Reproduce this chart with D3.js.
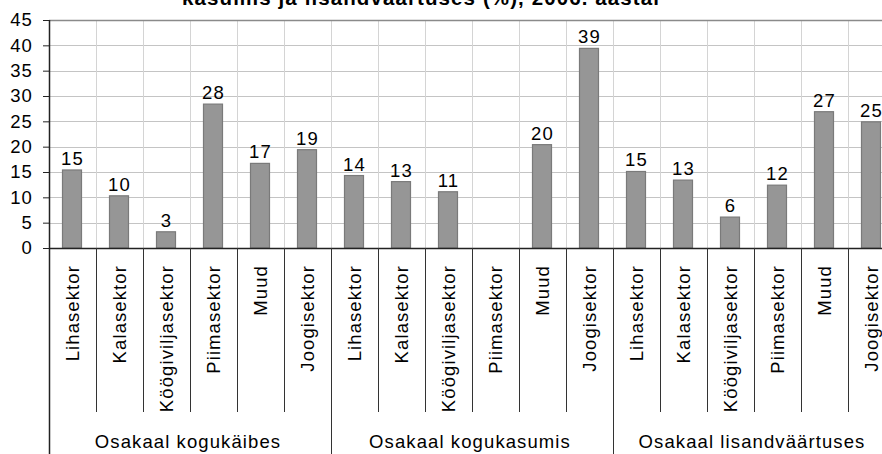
<!DOCTYPE html>
<html>
<head>
<meta charset="utf-8">
<script src="https://cdn.jsdelivr.net/npm/d3@7"></script>
<style>
  html, body { margin: 0; padding: 0; background: #fff; overflow: hidden; }
  svg { display: block; font-family: "Liberation Sans", Arial, sans-serif; }
</style>
</head>
<body>
<script>
// ---- data ----
const titleText = "kasumis ja  lisandväärtuses (%), 2006. aastal";
const groups = ["Osakaal kogukäibes", "Osakaal kogukasumis", "Osakaal lisandväärtuses"];
const sectors = ["Lihasektor", "Kalasektor", "Köögiviljasektor", "Piimasektor", "Muud", "Joogisektor"];
const valuesKogukaive = [15.4, 10.3, 3.2, 28.4, 16.7, 19.4];
const valuesKogukasum = [14.3, 13.1, 11.1, null, 20.4, 39.4];
const valuesLisandvaartus = [15.1, 13.4, 6.1, 12.4, 26.9, 24.9];
const yTicks = [0, 5, 10, 15, 20, 25, 30, 35, 40, 45];

(function () {
const seriesByGroup = [valuesKogukaive, valuesKogukasum, valuesLisandvaartus];
const rows = [];
groups.forEach((g, gi) => sectors.forEach((s, si) => {
  rows.push({ key: gi + "|" + si, group: g, gi, sector: s, value: seriesByGroup[gi][si] });
}));

// ---- layout ----
const W = 882, H = 454;
const mLeft = 49, mRight = 895, mTop = 20, mBottom = 248;

const svg = d3.select("body").append("svg").attr("width", W).attr("height", H);

const x = d3.scaleBand().domain(rows.map(r => r.key)).range([mLeft, mRight]).padding(0);
const xg = d3.scaleBand().domain(groups).range([mLeft, mRight]).padding(0);
const y = d3.scaleLinear().domain([0, 45]).range([mBottom, mTop]);

// horizontal gridlines
svg.append("g").selectAll("line").data(yTicks.filter(t => t > 0 && t < 45)).join("line")
  .attr("x1", mLeft).attr("x2", mRight)
  .attr("y1", d => Math.round(y(d)) + 0.5).attr("y2", d => Math.round(y(d)) + 0.5)
  .attr("stroke", "#c4c4c4").attr("stroke-width", 1);

// vertical gridlines at category boundaries
svg.append("g").selectAll("line").data(rows.slice(1)).join("line")
  .attr("x1", d => Math.round(x(d.key)) + 0.5).attr("x2", d => Math.round(x(d.key)) + 0.5)
  .attr("y1", mTop).attr("y2", mBottom)
  .attr("stroke", "#d4d4d4").attr("stroke-width", 1);

// top border
svg.append("line").attr("x1", mLeft).attr("x2", mRight)
  .attr("y1", Math.round(y(45)) + 0.5).attr("y2", Math.round(y(45)) + 0.5)
  .attr("stroke", "#8a8a8a").attr("stroke-width", 1.5);

// bars
const barW = 19;
svg.append("g").selectAll("rect").data(rows.filter(r => r.value != null)).join("rect")
  .attr("x", d => x(d.key) + x.bandwidth() / 2 - barW / 2 - 0.5)
  .attr("width", barW)
  .attr("y", d => y(d.value))
  .attr("height", d => mBottom - y(d.value))
  .attr("fill", "#969696").attr("stroke", "#7a7a7a").attr("stroke-width", 1.2);

// value labels
svg.append("g").selectAll("text").data(rows.filter(r => r.value != null)).join("text")
  .attr("x", d => x(d.key) + x.bandwidth() / 2)
  .attr("y", d => y(d.value) - 5)
  .attr("text-anchor", "middle")
  .attr("font-size", 18.5).attr("letter-spacing", 1.1).attr("fill", "#000")
  .text(d => d3.format(".0f")(d.value));

// y axis
const yAxis = d3.axisLeft(y).tickValues(yTicks).tickSize(6).tickPadding(10);
const gy = svg.append("g").attr("transform", `translate(${mLeft},0)`).call(yAxis);
gy.select(".domain").remove();
gy.selectAll(".tick line").attr("stroke", "#222");
gy.selectAll(".tick text").attr("font-size", 18.5).attr("letter-spacing", 1.1)
  .attr("fill", "#000").attr("font-family", "Liberation Sans, Arial, sans-serif");
svg.append("line").attr("x1", mLeft + 0.5).attr("x2", mLeft + 0.5).attr("y1", mTop).attr("y2", H)
  .attr("stroke", "#222").attr("stroke-width", 1.5);

// x axis (inner categories)
const xAxis = d3.axisBottom(x).tickSize(0).tickFormat(k => rows.find(r => r.key === k).sector);
const gx = svg.append("g").attr("transform", `translate(0,${mBottom})`).call(xAxis);
gx.select(".domain").remove();
gx.selectAll(".tick text")
  .attr("font-size", 18.5).attr("letter-spacing", 1.1).attr("fill", "#000")
  .attr("font-family", "Liberation Sans, Arial, sans-serif")
  .attr("text-anchor", "end")
  .attr("transform", "rotate(-90)")
  .attr("x", -17).attr("y", 0).attr("dy", "0.35em");

svg.append("line").attr("x1", mLeft).attr("x2", mRight)
  .attr("y1", mBottom + 0.5).attr("y2", mBottom + 0.5)
  .attr("stroke", "#222").attr("stroke-width", 1.5);

// inner separators
svg.append("g").selectAll("line").data(rows.slice(1).filter(r => !r.key.endsWith("|0"))).join("line")
  .attr("x1", d => Math.round(x(d.key)) + 0.5).attr("x2", d => Math.round(x(d.key)) + 0.5)
  .attr("y1", mBottom).attr("y2", 412)
  .attr("stroke", "#333").attr("stroke-width", 1);

// group separators
svg.append("g").selectAll("line").data(groups.slice(1)).join("line")
  .attr("x1", d => Math.round(xg(d)) + 0.5).attr("x2", d => Math.round(xg(d)) + 0.5)
  .attr("y1", mBottom).attr("y2", H)
  .attr("stroke", "#333").attr("stroke-width", 1);

// group labels
svg.append("g").selectAll("text").data(groups).join("text")
  .attr("x", d => xg(d) + xg.bandwidth() / 2 - 2)
  .attr("y", 448)
  .attr("text-anchor", "middle")
  .attr("font-size", 18.5).attr("letter-spacing", 1.1).attr("fill", "#000")
  .text(d => d);

// title (upper part cropped, as in the reference)
svg.append("text").attr("x", 421).attr("y", 4.5)
  .attr("text-anchor", "middle").attr("font-weight", "bold")
  .attr("font-size", 20.5).attr("letter-spacing", 1.1)
  .attr("fill", "#000").text(titleText);
})();
</script>
</body>
</html>
